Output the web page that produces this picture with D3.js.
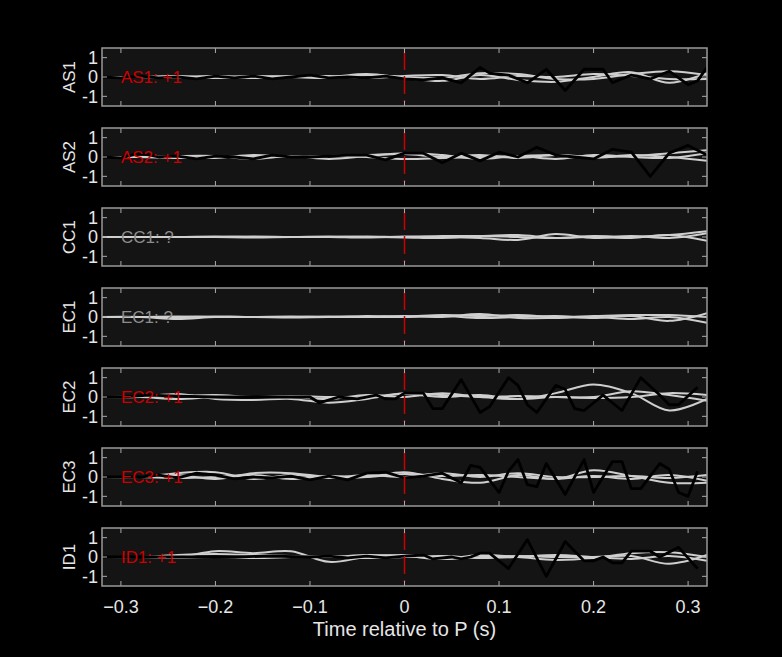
<!DOCTYPE html>
<html><head><meta charset="utf-8">
<script src="https://cdn.jsdelivr.net/npm/d3@7"></script>
<style>body{margin:0;background:#000}svg{display:block}</style>
</head><body>
<svg id="chart" width="782" height="657"></svg>
<script>
// stations, polarity picks
var stations = ["AS1", "AS2", "CC1", "EC1", "EC2", "EC3", "ID1"];
var picks = ["+1", "+1", "?", "?", "+1", "+1", "+1"];

// grey traces sampled every 0.04 s
var greyT = [-0.32,-0.28,-0.24,-0.2,-0.16,-0.12,-0.08,-0.04,0,0.04,0.08,0.12,0.16,0.2,0.24,0.28,0.32];
var greyTraces = [
  [[0,0,-0.05,0,0.05,0,-0.05,0.1,0,-0.05,0.2,0.15,-0.1,-0.1,0.15,0.3,0.1],
   [0,0,0.05,-0.05,0,0.05,0,0.15,-0.05,-0.2,0.1,-0.15,-0.25,0,0.25,-0.3,0.2],
   [0,0,0,0.05,-0.05,0,0.05,-0.05,0.05,0.1,-0.1,0.05,0,0.15,0.05,-0.1,-0.1]],
  [[0,0,0,-0.05,0.1,0,0.05,0.1,0.15,0,0.1,-0.05,0.1,0,0.05,0.2,0.35],
   [0,0,0.05,0.05,-0.1,0.05,-0.1,0.05,0.2,0.1,-0.1,0.05,-0.1,0.1,0,-0.05,0.2],
   [0,0,-0.05,0,0,0,0.05,0,-0.1,-0.05,0,0.05,0.1,-0.05,0.1,0,-0.2]],
  [[0,0,0,0,0.02,0,0,0.03,0,0.05,0.05,0.1,-0.05,0.05,0,0.1,0.3],
   [0,0,0,0,-0.02,0,0,-0.03,0.02,0,-0.05,-0.15,0.15,-0.05,0.05,-0.05,0.2],
   [0,0,0,0.02,0,0,0.02,0,-0.02,-0.05,0.05,0,-0.05,0,-0.05,0.1,-0.2]],
  [[0,0,0.02,0,0,0.02,0,0.05,0.02,0.1,0.05,0.1,0,0.05,0.1,0.1,0],
   [0,0,-0.1,0,0,-0.02,0,0,0.05,0,0.15,-0.05,-0.05,0,-0.1,0,-0.3],
   [0,0,0,0.02,0,0,0.02,0,0,0.05,-0.05,0,0.05,-0.05,0.05,-0.2,0.2]],
  [[0,0,0.15,-0.1,-0.15,-0.1,-0.3,-0.1,0.2,0.1,0,-0.1,0.2,0.65,0.2,-0.7,-0.1],
   [0,0,-0.1,0,0,0,-0.1,0.1,0,0.2,0,0.05,0,0,0.3,0.1,-0.2],
   [0,0,0.05,0.1,0,0.05,0,0,0.15,0,0.1,-0.1,0,-0.05,0,0.2,0.1]],
  [[0,0,0.1,-0.1,0.2,0.2,0,0,0.25,-0.1,-0.3,0.1,-0.1,0.35,0.05,-0.3,-0.3],
   [0,0,0.2,0.25,-0.1,0.1,-0.05,0.1,0,0.2,0,0.2,0,0,0.05,-0.05,0.1],
   [0,0,-0.05,0,0.1,-0.1,0.05,0,0.15,0.05,0.1,0,-0.1,0.05,-0.1,0.1,-0.2]],
  [[0,0,0,0.3,0.2,0.3,-0.25,0,0.1,-0.1,0,0.05,0,0,0.05,-0.35,0.1],
   [0,0,0.1,0.15,0.1,0.05,0,0.1,0.05,-0.1,0.1,0,-0.15,-0.05,0.2,0.25,0],
   [0,0,-0.05,0,-0.05,0,0.05,-0.05,0,0.05,-0.05,0,0.1,0,-0.1,0.05,-0.2]]
];

// black trace vertices [time, amplitude]; null where no trace drawn
var blackTraces = [
  [[-0.32,0],[-0.3,-0.05],[-0.28,0.05],[-0.26,-0.05],[-0.24,0],[-0.22,-0.1],[-0.2,0.05],[-0.18,-0.05],[-0.16,0.05],[-0.14,-0.1],[-0.12,0],[-0.1,0.1],[-0.08,-0.05],[-0.06,0],[-0.04,-0.05],[-0.02,0.05],[0,-0.1],[0.02,-0.15],[0.04,-0.05],[0.06,-0.3],[0.08,0.5],[0.09,0.2],[0.11,0.1],[0.13,-0.3],[0.15,0.4],[0.17,-0.7],[0.19,0.4],[0.21,0.4],[0.22,-0.3],[0.24,0.1],[0.26,-0.1],[0.28,0.3],[0.3,-0.4],[0.31,-0.2],[0.32,0.5]],
  [[-0.32,0],[-0.3,-0.05],[-0.28,0.2],[-0.26,0],[-0.24,0.05],[-0.22,-0.1],[-0.2,0.05],[-0.18,0],[-0.16,-0.1],[-0.14,0.1],[-0.12,0],[-0.1,0],[-0.08,0.05],[-0.06,0.1],[-0.04,0.1],[-0.02,-0.15],[0,0.2],[0.02,0.2],[0.04,-0.3],[0.06,0.2],[0.08,-0.2],[0.1,0.25],[0.12,0],[0.14,0.5],[0.16,0.1],[0.18,0],[0.2,-0.1],[0.22,0.4],[0.24,0.25],[0.26,-1.0],[0.28,0.2],[0.3,0.6],[0.32,0.1]],
  null,
  null,
  [[-0.32,0],[-0.3,0],[-0.27,0.1],[-0.24,0.05],[-0.2,0],[-0.16,0],[-0.12,0],[-0.1,0],[-0.09,-0.3],[-0.07,0],[-0.05,-0.1],[-0.03,0.1],[-0.02,-0.1],[-0.01,-0.1],[0,0.2],[0.01,0.2],[0.02,0.2],[0.03,-0.6],[0.04,-0.6],[0.06,0.9],[0.08,-0.8],[0.09,-0.5],[0.11,1.0],[0.12,0.6],[0.13,-0.4],[0.14,-0.8],[0.16,0.6],[0.17,0.4],[0.18,-0.6],[0.19,-0.7],[0.21,0.1],[0.23,-0.7],[0.25,1.0],[0.27,0.1],[0.28,-0.4],[0.29,-0.4],[0.31,0.5]],
  [[-0.32,0],[-0.3,0],[-0.28,0],[-0.26,0.1],[-0.24,-0.05],[-0.22,0.2],[-0.2,0.1],[-0.18,-0.1],[-0.16,0],[-0.14,-0.05],[-0.12,0.05],[-0.1,-0.15],[-0.08,0.05],[-0.06,-0.15],[-0.04,0.2],[-0.02,0.25],[0,-0.05],[0.02,0.05],[0.04,0.2],[0.06,-0.3],[0.07,0.6],[0.08,0.5],[0.1,-0.8],[0.11,0.3],[0.12,0.9],[0.13,-0.4],[0.14,-0.5],[0.15,0.7],[0.17,-0.9],[0.19,0.9],[0.2,-0.8],[0.22,0.8],[0.23,0.8],[0.24,-0.6],[0.25,-0.6],[0.27,0.7],[0.28,0.4],[0.29,-0.8],[0.3,-1.0],[0.31,0.3]],
  [[-0.32,0],[-0.3,0],[-0.26,0],[-0.22,0],[-0.18,0],[-0.14,0.05],[-0.1,0],[-0.08,0.05],[-0.06,-0.05],[-0.04,0.05],[-0.02,-0.05],[0,0.05],[0.02,0.1],[0.03,-0.1],[0.05,0],[0.06,-0.1],[0.07,0],[0.08,0.2],[0.09,0.2],[0.11,-0.6],[0.13,0.9],[0.15,-1.0],[0.17,0.8],[0.19,-0.2],[0.2,-0.2],[0.21,0],[0.22,-0.3],[0.23,-0.3],[0.24,0.3],[0.26,0.3],[0.27,0],[0.29,0.5],[0.31,-0.6]]
];

var xTicks = [-0.3, -0.2, -0.1, 0, 0.1, 0.2, 0.3];
var yTicks = [-1, 0, 1];

var svg = d3.select("#chart");
var left = 102, right = 707, top0 = 48, ph = 58, gap = 22;
var x = d3.scaleLinear().domain([-0.32, 0.32]).range([left, right]);
var font = "'Liberation Sans', Arial, sans-serif";

stations.forEach(function (st, i) {
    var t = top0 + i * (ph + gap);
    var y = d3.scaleLinear().domain([-1.5, 1.5]).range([t + ph, t]);
    var g = svg.append("g");
    var cid = "clip" + i;
    svg.append("clipPath").attr("id", cid).append("rect")
        .attr("x", left).attr("y", t).attr("width", right - left).attr("height", ph);

    g.append("rect").attr("x", left).attr("y", t).attr("width", right - left).attr("height", ph)
        .attr("fill", "#141414");

    var plot = g.append("g").attr("clip-path", "url(#" + cid + ")");
    var gl = d3.line().x(function (d, k) { return x(greyT[k]); }).y(function (d) { return y(d); })
        .curve(d3.curveCatmullRom);
    greyTraces[i].forEach(function (tr) {
        plot.append("path").attr("d", gl(tr)).attr("fill", "none")
            .attr("stroke", "#cfcfcf").attr("stroke-width", 2);
    });
    if (blackTraces[i]) {
        var bl = d3.line().x(function (d) { return x(d[0]); }).y(function (d) { return y(d[1]); });
        plot.append("path").attr("d", bl(blackTraces[i])).attr("fill", "none")
            .attr("stroke", "#000").attr("stroke-width", 2.8).attr("stroke-linejoin", "round");
    }

    // red pick marker
    g.append("line").attr("x1", x(0)).attr("x2", x(0)).attr("y1", t + 4).attr("y2", t + ph - 4)
        .attr("stroke", "#cc0000").attr("stroke-width", 1.5).attr("stroke-dasharray", "18,6");

    // ticks
    var tk = g.append("g").attr("stroke", "#aaa").attr("stroke-width", 1);
    xTicks.forEach(function (v) {
        tk.append("line").attr("x1", x(v)).attr("x2", x(v)).attr("y1", t).attr("y2", t + 5);
        tk.append("line").attr("x1", x(v)).attr("x2", x(v)).attr("y1", t + ph).attr("y2", t + ph - 5);
    });
    yTicks.forEach(function (v) {
        tk.append("line").attr("x1", left).attr("x2", left + 5).attr("y1", y(v)).attr("y2", y(v));
        tk.append("line").attr("x1", right).attr("x2", right - 5).attr("y1", y(v)).attr("y2", y(v));
        g.append("text").attr("x", left - 4).attr("y", y(v)).attr("dy", "0.36em")
            .attr("text-anchor", "end").attr("fill", "#e6e6e6").attr("font-family", font)
            .attr("font-size", 18).text(v === -1 ? "-1" : v);
    });
    g.append("rect").attr("x", left).attr("y", t).attr("width", right - left).attr("height", ph)
        .attr("fill", "none").attr("stroke", "#999").attr("stroke-width", 1.5);

    g.append("text").attr("transform", "translate(75," + (t + ph / 2) + ") rotate(-90)")
        .attr("text-anchor", "middle").attr("fill", "#e6e6e6").attr("font-family", font)
        .attr("font-size", 17).text(st);
    g.append("text").attr("x", x(-0.3)).attr("y", y(0)).attr("dy", "0.36em")
        .attr("fill", picks[i] === "?" ? "#8c8c8c" : "#cc0000").attr("font-family", font)
        .attr("font-size", 17).text(st + ": " + picks[i]);

    if (i === stations.length - 1) {
        xTicks.forEach(function (v) {
            g.append("text").attr("x", x(v)).attr("y", t + ph + 27).attr("text-anchor", "middle")
                .attr("fill", "#e6e6e6").attr("font-family", font).attr("font-size", 18)
                .text(v === 0 ? "0" : d3.format(".1f")(v));
        });
        g.append("text").attr("x", x(0)).attr("y", t + ph + 50).attr("text-anchor", "middle")
            .attr("fill", "#e6e6e6").attr("font-family", font).attr("font-size", 20)
            .text("Time relative to P (s)");
    }
});
</script>
</body></html>
